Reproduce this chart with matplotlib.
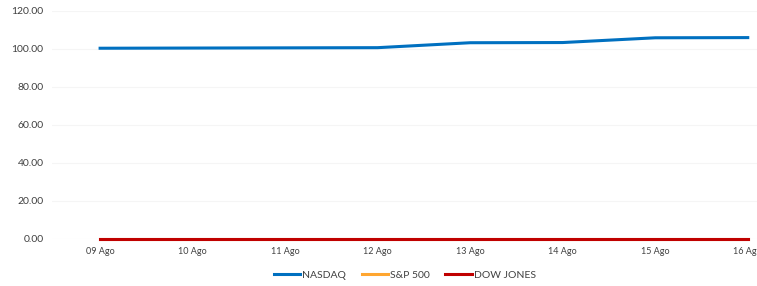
import matplotlib
matplotlib.use('Agg')
import matplotlib.pyplot as plt

# Datos
fechas = ['09 Ago', '10 Ago', '11 Ago', '12 Ago', '13 Ago', '14 Ago', '15 Ago', '16 Ago']
nasdaq = [100.4, 100.5, 100.6, 100.7, 103.3, 103.4, 105.9, 106.0]
sp500 = [0.0, 0.0, 0.0, 0.0, 0.0, 0.0, 0.0, 0.0]
dow_jones = [0.0, 0.0, 0.0, 0.0, 0.0, 0.0, 0.0, 0.0]

plt.rcParams['font.family'] = ['Lato', 'DejaVu Sans']

fig = plt.figure(figsize=(7.57, 2.86), dpi=100)
ax = fig.add_axes([52 / 757, 47 / 286, (757 - 52) / 757, 228 / 286])

x = range(len(fechas))
ax.plot(x, nasdaq, color='#0070C0', linewidth=2.2, label='NASDAQ', clip_on=False)
ax.plot(x, sp500, color='#FFA630', linewidth=2.2, label='S&P 500', clip_on=False)
ax.plot(x, dow_jones, color='#C00000', linewidth=2.2, label='DOW JONES', clip_on=False)

ax.set_xlim(-0.52, 7.1)
ax.set_ylim(0, 120)
ax.set_yticks(range(0, 121, 20))
ax.set_yticklabels([f'{v:.2f}' for v in range(0, 121, 20)], fontsize=7.5, color='#404040')
ax.set_xticks(list(x))
ax.set_xticklabels(fechas, fontsize=6.5, color='#404040')
ax.tick_params(length=0, pad=6)
ax.grid(axis='y', color='#F5F5F5', linewidth=0.8)
ax.set_axisbelow(True)
for s in ax.spines.values():
    s.set_visible(False)

fig.legend(loc='center', bbox_to_anchor=(405 / 757, 1 - 275 / 286), ncol=3, frameon=False,
           fontsize=7.5, handlelength=2.5, handletextpad=0.2, columnspacing=1.5,
           labelcolor='#404040')

fig.savefig('out.png', dpi=100)
